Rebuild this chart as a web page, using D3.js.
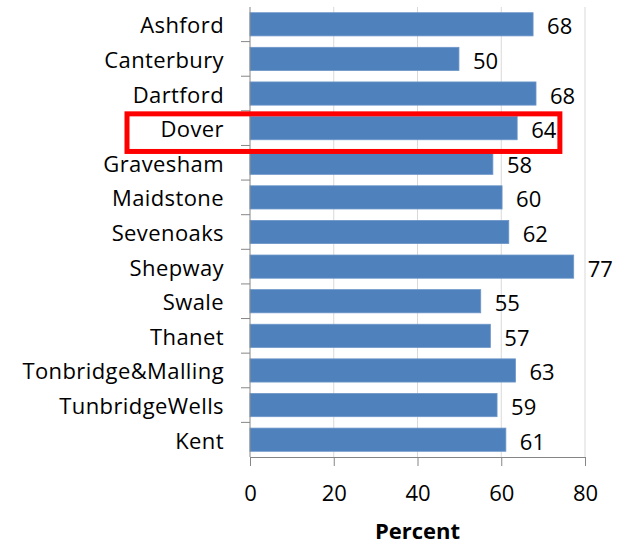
<!DOCTYPE html>
<html>
<head>
<meta charset="utf-8">
<script src="https://cdn.jsdelivr.net/npm/d3@7"></script>
<style>
    body { margin: 0; background: #fff; }
    svg { display: block; font-family: "Open Sans", sans-serif; }
</style>
</head>
<body>
<svg id="svgChart"></svg>
<script>
// data
var districts = ["Ashford", "Canterbury", "Dartford", "Dover", "Gravesham", "Maidstone",
                 "Sevenoaks", "Shepway", "Swale", "Thanet", "Tonbridge&Malling",
                 "TunbridgeWells", "Kent"];
var percents  = [67.6, 49.9, 68.3, 63.8, 58.0, 60.2, 61.8, 77.3, 55.1, 57.4, 63.4, 59.0, 61.1];
var xTicks    = [0, 20, 40, 60, 80];
var highlighted = "Dover";

var data = districts.map((name, i) => ({name: name, value: percents[i]}));

var width = 617, height = 545;
var margin = {top: 7, right: 32, bottom: 88, left: 250};
var innerW = width - margin.left - margin.right;
var innerH = height - margin.top - margin.bottom;
var fontSize = 22;

var svg = d3.select("#svgChart")
    .attr("width", width)
    .attr("height", height);

var g = svg.append("g")
    .attr("transform", "translate(" + margin.left + "," + margin.top + ")");

// scales
var x = d3.scaleLinear().domain([0, 80]).range([0, innerW]);
var y = d3.scaleBand().domain(districts).range([0, innerH]).paddingInner(0.33).paddingOuter(0.165);

// gridlines
g.selectAll(".grid")
    .data(xTicks.slice(1))
    .enter().append("line")
    .attr("class", "grid")
    .attr("x1", d => x(d)).attr("x2", d => x(d))
    .attr("y1", 0).attr("y2", innerH)
    .attr("stroke", "#d9d9d9").attr("stroke-width", 1);

// bars
g.selectAll(".bar")
    .data(data)
    .enter().append("rect")
    .attr("class", "bar")
    .attr("x", x(0))
    .attr("y", d => y(d.name))
    .attr("width", d => x(d.value) - x(0))
    .attr("height", y.bandwidth())
    .attr("fill", "#4f81bd")
    .attr("stroke", "#6d96c8")
    .attr("stroke-width", 0.8);

// value labels
g.selectAll(".val")
    .data(data)
    .enter().append("text")
    .attr("class", "val")
    .attr("x", d => x(d.value) + 14)
    .attr("y", d => y(d.name) + y.bandwidth() / 2 + 1)
    .attr("dominant-baseline", "central")
    .attr("font-size", fontSize)
    .attr("fill", "#000")
    .text(d => d3.format(".0f")(d.value));

// y axis: ticks on the band edges, labels in the middle
var yAxis = g.append("g").attr("class", "y-axis");
yAxis.append("line")
    .attr("x1", 0).attr("x2", 0).attr("y1", 0).attr("y2", innerH)
    .attr("stroke", "#868686");
var step = y.step();
yAxis.selectAll(".ytick")
    .data(districts.slice(1))
    .enter().append("line")
    .attr("class", "ytick")
    .attr("x1", -9).attr("x2", 0)
    .attr("y1", d => y(d) - y.paddingInner() * step / 2)
    .attr("y2", d => y(d) - y.paddingInner() * step / 2)
    .attr("stroke", "#868686");
yAxis.selectAll(".ylabel")
    .data(districts)
    .enter().append("text")
    .attr("class", "ylabel")
    .attr("x", -26)
    .attr("y", d => y(d) + y.bandwidth() / 2)
    .attr("dominant-baseline", "central")
    .attr("text-anchor", "end")
    .attr("font-size", fontSize)
    .attr("letter-spacing", 0.4)
    .text(d => d);

// x axis
var xAxis = g.append("g")
    .attr("class", "x-axis")
    .attr("transform", "translate(0," + innerH + ")")
    .call(d3.axisBottom(x).tickValues(xTicks).tickSize(9).tickSizeOuter(0).tickPadding(19));
xAxis.select(".domain").attr("stroke", "#868686");
xAxis.selectAll(".tick line").attr("stroke", "#868686");
xAxis.selectAll(".tick text")
    .attr("font-size", fontSize)
    .attr("font-family", "'Open Sans', sans-serif")
    .attr("fill", "#000");

// axis title (baseline sits close to the bottom edge, as in the original)
g.append("text")
    .attr("x", innerW / 2)
    .attr("y", innerH + 82)
    .attr("text-anchor", "middle")
    .attr("font-size", fontSize)
    .attr("font-weight", "bold")
    .text("Percent");

// red box around the highlighted district
var hy = y(highlighted) - y.paddingInner() * step / 2;
g.append("rect")
    .attr("x", -123)
    .attr("y", hy + 3)
    .attr("width", x(74) + 123)
    .attr("height", step + 3)
    .attr("fill", "none")
    .attr("stroke", "#ff0000")
    .attr("stroke-width", 5);
</script>
</body>
</html>
